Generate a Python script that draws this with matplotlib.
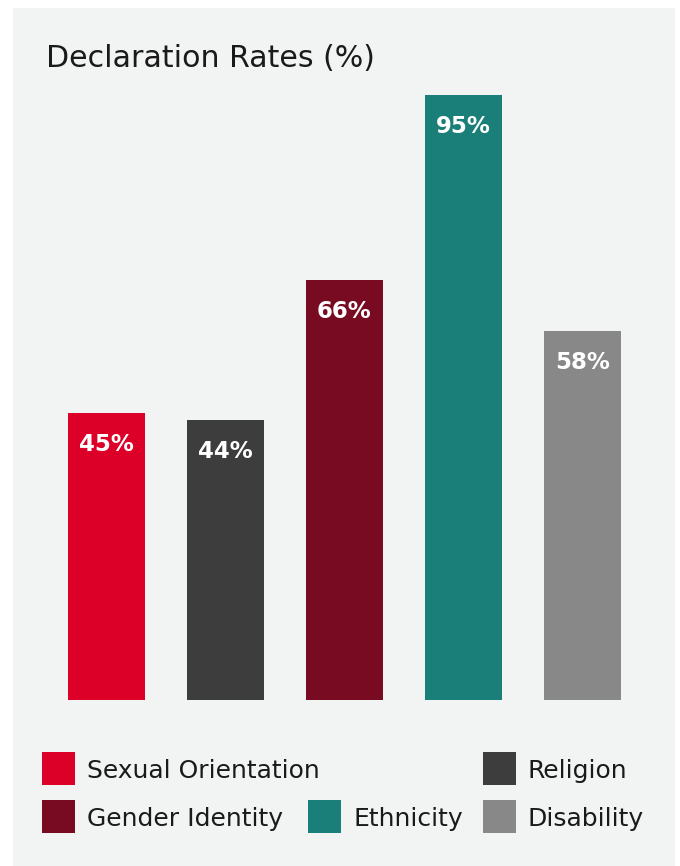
import matplotlib
matplotlib.use("Agg")
import matplotlib.pyplot as plt
from matplotlib.patches import Rectangle

plt.rcParams['font.family'] = ['DejaVu Sans']

categories = ["Sexual Orientation", "Religion", "Gender Identity", "Ethnicity", "Disability"]
rates = [45, 44, 66, 95, 58]
colors = ["#dc0029", "#3c3d3c", "#780a21", "#1a7f78", "#888888"]

W, H = 680, 866
fig = plt.figure(figsize=(W / 100, H / 100), dpi=100)
fig.patch.set_facecolor("white")


def px(x, y):
    # pixel coords (from top-left) -> figure fraction
    return x / W, 1 - y / H


# light grey card behind everything
x0, y0 = px(13, 866)
fig.patches.append(Rectangle((x0, y0), 662 / W, 858 / H, transform=fig.transFigure,
                             facecolor="#f2f3f3", edgecolor="none", zorder=-5))

fig.text(*px(46, 67), "Declaration Rates (%)", fontsize=21.6, color="#1a1a1a", va="baseline")

# bar area: 0..100 maps onto 637 px, bottom at y=700
l, b = px(47, 700)
ax = fig.add_axes([l, b, 595 / W, 637 / H])
ax.set_facecolor("none")
pos = range(len(rates))
bars = ax.bar(pos, rates, width=0.647, color=colors)
ax.set_xlim(-0.5, 4.5)
ax.set_ylim(0, 100)
ax.axis("off")

for bar, v in zip(bars, rates):
    ax.annotate(f"{v}%", (bar.get_x() + bar.get_width() / 2, v),
                xytext=(0, -38), textcoords="offset pixels",
                ha="center", va="baseline", color="white",
                fontsize=16.5, fontweight="semibold")

# legend, laid out in two rows
legend_pos = {
    "Sexual Orientation": (42, 752),
    "Religion": (483, 752),
    "Gender Identity": (42, 800),
    "Ethnicity": (308, 800),
    "Disability": (483, 800),
}
for name, c in zip(categories, colors):
    sx, sy = legend_pos[name]
    rx, ry = px(sx, sy + 33)
    fig.patches.append(Rectangle((rx, ry), 33 / W, 33 / H, transform=fig.transFigure,
                                 facecolor=c, edgecolor="none"))
    fig.text(*px(sx + 45, sy + 26), name, fontsize=18, color="#1a1a1a", va="baseline")

fig.savefig("out.png", dpi=100)
